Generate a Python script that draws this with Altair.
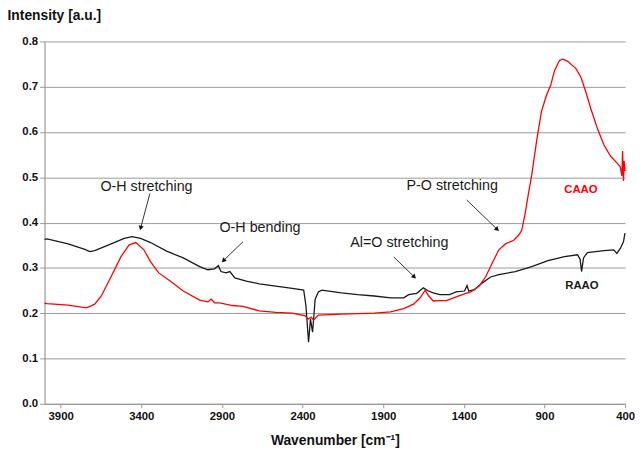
import math
import altair as alt
import pandas as pd

# ---- data ----
raao_wn = [4000, 3984, 3854, 3750, 3719, 3689, 3587, 3506, 3457, 3404, 3343, 3243, 3140, 3038,
           2987, 2946, 2922, 2906, 2875, 2851, 2820, 2749, 2668, 2566, 2464, 2393, 2379, 2363,
           2351, 2338, 2322, 2302, 2281, 2159, 2058, 1956, 1854, 1773, 1742, 1692, 1651, 1620,
           1590, 1549, 1488, 1448, 1396, 1380, 1370, 1335, 1285, 1234, 1183, 1081, 979, 878,
           776, 695, 679, 670, 658, 634, 532, 471, 451, 430, 410, 401]
raao_int = [0.363, 0.364, 0.353, 0.341, 0.336, 0.338, 0.353, 0.365, 0.369, 0.365, 0.356, 0.337,
            0.322, 0.303, 0.296, 0.298, 0.305, 0.292, 0.289, 0.292, 0.278, 0.271, 0.265, 0.260,
            0.255, 0.251, 0.216, 0.136, 0.187, 0.158, 0.231, 0.247, 0.251, 0.245, 0.241, 0.238,
            0.234, 0.234, 0.241, 0.244, 0.256, 0.249, 0.245, 0.241, 0.241, 0.247, 0.249, 0.261,
            0.249, 0.252, 0.267, 0.280, 0.285, 0.292, 0.303, 0.316, 0.325, 0.329, 0.319, 0.292,
            0.322, 0.334, 0.338, 0.340, 0.332, 0.343, 0.358, 0.377]

caao_wn = [4000, 3984, 3854, 3739, 3689, 3648, 3587, 3526, 3475, 3434, 3384, 3343, 3292, 3221,
           3140, 3038, 2987, 2967, 2946, 2914, 2835, 2769, 2668, 2566, 2464, 2383, 2367, 2346,
           2332, 2302, 2159, 1956, 1854, 1773, 1712, 1671, 1640, 1620, 1590, 1549, 1508, 1448,
           1387, 1356, 1305, 1264, 1224, 1183, 1142, 1091, 1061, 1041, 1020, 1000, 980, 949,
           919, 888, 862, 837, 807, 786, 756, 705, 674, 644, 613, 573, 532, 491, 451, 430, 420,
           416, 410, 406, 401]
caao_int = [0.222, 0.221, 0.218, 0.212, 0.220, 0.238, 0.281, 0.325, 0.351, 0.356, 0.340, 0.314,
            0.289, 0.271, 0.249, 0.229, 0.225, 0.231, 0.223, 0.223, 0.217, 0.215, 0.205, 0.202,
            0.200, 0.194, 0.187, 0.191, 0.185, 0.196, 0.198, 0.200, 0.203, 0.210, 0.220, 0.234,
            0.251, 0.239, 0.227, 0.228, 0.228, 0.236, 0.244, 0.247, 0.260, 0.281, 0.311, 0.340,
            0.353, 0.361, 0.372, 0.383, 0.420, 0.463, 0.503, 0.580, 0.645, 0.681, 0.703, 0.736,
            0.758, 0.761, 0.756, 0.740, 0.721, 0.689, 0.652, 0.609, 0.572, 0.547, 0.532, 0.523,
            0.503, 0.558, 0.492, 0.536, 0.514]

ann_text = ["O-H stretching", "O-H bending", "Al=O stretching", "P-O stretching"]
ann_wn = [3368, 2664, 1800, 1472]
ann_int = [0.479, 0.388, 0.354, 0.480]
arrow_wn_tail = [3347, 2769, 1834, 1382]
arrow_int_tail = [0.464, 0.358, 0.324, 0.450]
arrow_wn_head = [3404, 2891, 1707, 1193]
arrow_int_head = [0.388, 0.316, 0.280, 0.385]

series_names = ["CAAO", "RAAO"]
series_lbl_wn = [674, 668]
series_lbl_int = [0.471, 0.261]

x_ticks = [3900, 3400, 2900, 2400, 1900, 1400, 900, 400]
y_ticks = [0.0, 0.1, 0.2, 0.3, 0.4, 0.5, 0.6, 0.7, 0.8]

W, H = 588, 367
FONT = "Liberation Sans"

# ---- frames ----
df_raao = pd.DataFrame({"wn": raao_wn, "v": raao_int})
df_caao = pd.DataFrame({"wn": caao_wn, "v": caao_int})
df_ann = pd.DataFrame({"t": ann_text, "wn": ann_wn, "v": ann_int})

sx = W / 3600.0
sy = H / 0.8
angles = []
for a, b, c, d in zip(arrow_wn_tail, arrow_int_tail, arrow_wn_head, arrow_int_head):
    dx = -(c - a) * sx
    dy = -(d - b) * sy
    angles.append(math.degrees(math.atan2(dx, -dy)) % 360)
df_arrow = pd.DataFrame({"wn": arrow_wn_tail, "v": arrow_int_tail,
                         "wn2": arrow_wn_head, "v2": arrow_int_head, "ang": angles})
df_lbl = pd.DataFrame({"t": series_names, "wn": series_lbl_wn, "v": series_lbl_int})

xscale = alt.Scale(domain=[400, 4000], reverse=True, nice=False, zero=False)
yscale = alt.Scale(domain=[0, 0.8], nice=False, zero=True)

xax = alt.Axis(values=x_ticks, format="d", title="Wavenumber [cm\u207b\u00b9]",
               grid=False, tickSize=4, labelPadding=3, titleY=37,
               titleBaseline="middle", labelFlush=False)
yax = alt.Axis(values=y_ticks, format=".1f", title="Intensity [a.u.]",
               grid=True, tickSize=5, labelPadding=2, titleAngle=0,
               titleAlign="left", titleBaseline="middle", titleX=-38, titleY=-26)

X = alt.X("wn:Q", scale=xscale, axis=xax)
Y = alt.Y("v:Q", scale=yscale, axis=yax)
Xn = alt.X("wn:Q", scale=xscale)
Yn = alt.Y("v:Q", scale=yscale)

line_raao = alt.Chart(df_raao).mark_line(color="#1a1a1a", strokeWidth=1.3).encode(x=X, y=Y)
line_caao = alt.Chart(df_caao).mark_line(color="#ff0000", strokeWidth=1.3).encode(x=Xn, y=Yn)

rules = alt.Chart(df_arrow).mark_rule(color="#333333", strokeWidth=1).encode(
    x=Xn, y=Yn, x2="wn2:Q", y2="v2:Q")
heads = alt.Chart(df_arrow).mark_point(shape="triangle-up", filled=True, size=28,
                                        color="#111111", opacity=1).encode(
    x=alt.X("wn2:Q", scale=xscale), y=alt.Y("v2:Q", scale=yscale),
    angle=alt.Angle("ang:Q", scale=None))

texts = alt.Chart(df_ann).mark_text(font=FONT, fontSize=14.5, color="#1a1a1a",
                                    align="center", baseline="middle").encode(
    x=Xn, y=Yn, text="t:N")

lbl_colors = alt.Color("t:N", scale=alt.Scale(domain=series_names, range=["#ff0000", "#1a1a1a"]),
                       legend=None)
labels = alt.Chart(df_lbl).mark_text(font=FONT, fontSize=11.5, fontWeight="bold",
                                     align="center", baseline="middle").encode(
    x=Xn, y=Yn, text="t:N", color=lbl_colors)

chart = alt.layer(line_raao, line_caao, rules, heads, texts, labels).properties(
    width=W, height=H,
    autosize=alt.AutoSizeParams(type="none"),
    padding={"left": 37, "top": 31, "right": 10, "bottom": 50},
).configure_view(stroke=None).configure_axis(
    labelFont=FONT, titleFont=FONT, labelFontSize=11.5, labelFontWeight="bold",
    titleFontSize=14, titleFontWeight="bold", labelColor="#111111", titleColor="#111111",
    domainColor="#999999", tickColor="#999999", gridColor="#999999", gridWidth=1,
    domainWidth=1.2,
)

chart.save("out.html", embed_options={"renderer": "svg", "actions": False})
